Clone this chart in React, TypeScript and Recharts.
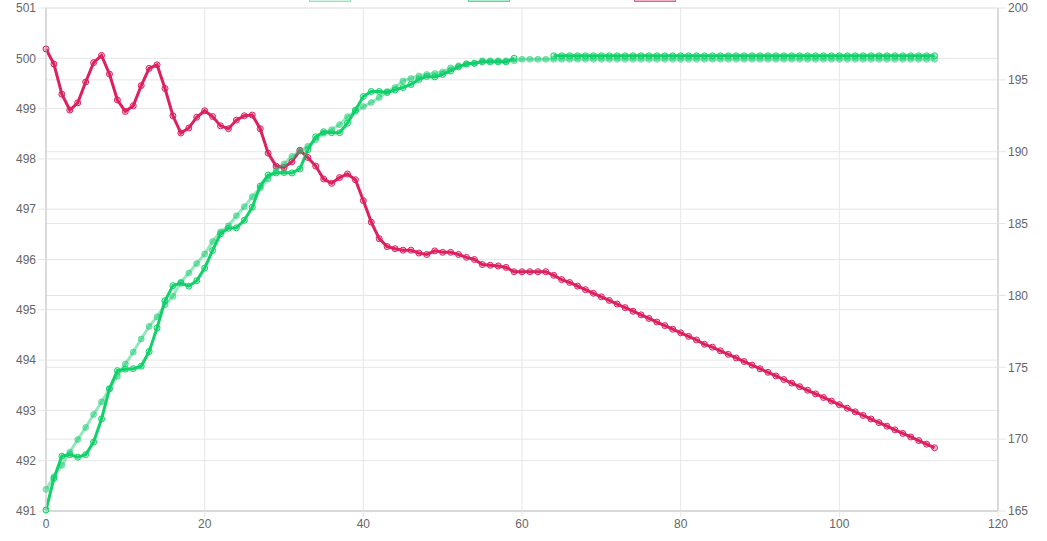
import { LineChart, Line, XAxis, YAxis, CartesianGrid } from "recharts";

// x positions are just the sample index 0..112
const SMOOTH = [
  491.43, 491.68, 491.91, 492.17, 492.42, 492.66, 492.92, 493.17, 493.43, 493.68,
  493.92, 494.16, 494.42, 494.67, 494.86, 495.1, 495.27, 495.55, 495.73, 495.92,
  496.11, 496.36, 496.55, 496.67, 496.87, 497.05, 497.25, 497.42, 497.6, 497.78,
  497.9, 498.05, 498.15, 498.25, 498.38, 498.51, 498.58, 498.68, 498.84, 498.94,
  499.04, 499.12, 499.22, 499.34, 499.42, 499.55, 499.6, 499.65, 499.68, 499.7,
  499.73, 499.81, 499.85, 499.88, 499.9, 499.95, 499.95, 499.95, 499.95, 499.95,
  499.98, 499.98, 499.98, 499.98, 499.98, 499.98, 499.98, 499.98, 499.98, 499.98,
  499.98, 499.98, 499.98, 499.98, 499.98, 499.98, 499.98, 499.98, 499.98, 499.98,
  499.98, 499.98, 499.98, 499.98, 499.98, 499.98, 499.98, 499.98, 499.98, 499.98,
  499.98, 499.98, 499.98, 499.98, 499.98, 499.98, 499.98, 499.98, 499.98, 499.98,
  499.98, 499.98, 499.98, 499.98, 499.98, 499.98, 499.98, 499.98, 499.98, 499.98,
  499.98, 499.98, 499.98,
];

const RAW = [
  491.02, 491.65, 492.09, 492.12, 492.07, 492.12, 492.37, 492.83, 493.43, 493.79,
  493.82, 493.83, 493.88, 494.17, 494.64, 495.18, 495.48, 495.53, 495.47, 495.58,
  495.83, 496.18, 496.51, 496.62, 496.63, 496.78, 497.04, 497.46, 497.68, 497.72,
  497.73, 497.72, 497.8, 498.18, 498.44, 498.54, 498.52, 498.52, 498.71, 498.97,
  499.24, 499.34, 499.34, 499.32, 499.37, 499.42, 499.48, 499.58, 499.64, 499.63,
  499.68, 499.75, 499.83, 499.89, 499.9, 499.93, 499.93, 499.93, 499.93, 500.0,
  null, null, null, null, 500.05, 500.05, 500.05, 500.05, 500.05, 500.05,
  500.05, 500.05, 500.05, 500.05, 500.05, 500.05, 500.05, 500.05, 500.05, 500.05,
  500.05, 500.05, 500.05, 500.05, 500.05, 500.05, 500.05, 500.05, 500.05, 500.05,
  500.05, 500.05, 500.05, 500.05, 500.05, 500.05, 500.05, 500.05, 500.05, 500.05,
  500.05, 500.05, 500.05, 500.05, 500.05, 500.05, 500.05, 500.05, 500.05, 500.05,
  500.05, 500.05, 500.05,
];

// red series, plotted on the right axis
const SECOND = [
  197.15, 196.1, 194.0, 192.9, 193.4, 194.85, 196.2, 196.7, 195.4, 193.6,
  192.8, 193.2, 194.6, 195.8, 196.05, 194.4, 192.5, 191.3, 191.65, 192.4,
  192.85, 192.45, 191.8, 191.6, 192.2, 192.5, 192.55, 191.6, 189.9, 189.0,
  188.9, 189.3, 190.1, 189.6, 189.0, 188.1, 187.8, 188.2, 188.45, 188.05,
  186.6, 185.1, 183.95, 183.4, 183.25, 183.15, 183.15, 182.95, 182.85, 183.1,
  183.0, 183.0, 182.85, 182.65, 182.5, 182.15, 182.1, 182.05, 181.95, 181.65,
  181.65, 181.65, 181.65, 181.65, 181.4, 181.1, 180.9, 180.65, 180.4, 180.15,
  179.9, 179.65, 179.4, 179.15, 178.9, 178.65, 178.4, 178.15, 177.9, 177.65,
  177.4, 177.15, 176.9, 176.6, 176.4, 176.15, 175.9, 175.65, 175.4, 175.15,
  174.9, 174.65, 174.4, 174.15, 173.9, 173.65, 173.4, 173.15, 172.9, 172.65,
  172.4, 172.15, 171.9, 171.65, 171.4, 171.15, 170.9, 170.65, 170.4, 170.15,
  169.9, 169.65, 169.4,
];

const X_TICKS = [0, 20, 40, 60, 80, 100, 120];
const LEFT_TICKS = [491, 492, 493, 494, 495, 496, 497, 498, 499, 500, 501];
const RIGHT_TICKS = [165, 170, 175, 180, 185, 190, 195, 200];

const data = SMOOTH.map((v, i) => ({ x: i, smooth: v, raw: RAW[i], second: SECOND[i] }));

const GRID = "#e6e6e6";
const AXIS = "#d2d2d2";
const TICK = { fill: "#666", fontSize: 12, fontFamily: '"Liberation Sans", Arial, sans-serif' };

const LIGHT = "rgba(20, 205, 110, 0.45)";
const GREEN = "#10d268";
const RED = "#dd2160";

const LEGEND = [
  { left: 309, fill: "rgba(20, 205, 110, 0.2)", stroke: "rgba(20, 205, 110, 0.35)" },
  { left: 468, fill: "rgba(16, 210, 104, 0.35)", stroke: "rgba(16, 210, 104, 0.6)" },
  { left: 634, fill: "rgba(221, 33, 96, 0.35)", stroke: "rgba(221, 33, 96, 0.6)" },
];

export default function App() {
  return (
    <div
      style={{
        position: "absolute",
        left: 0,
        top: 0,
        width: 1047,
        height: 541,
        overflow: "hidden",
        background: "#fff",
      }}
    >
      {LEGEND.map((l) => (
        <div
          key={l.left}
          style={{
            position: "absolute",
            left: l.left,
            top: -10,
            width: 40,
            height: 10,
            background: l.fill,
            border: `1px solid ${l.stroke}`,
          }}
        />
      ))}
      <LineChart width={1047} height={541} data={data} margin={{ top: 8, right: 0, bottom: 0, left: 0 }}>
        <CartesianGrid yAxisId="left" stroke={GRID} horizontalValues={LEFT_TICKS} verticalValues={X_TICKS} />
        <CartesianGrid yAxisId="right" stroke={GRID} vertical={false} horizontalValues={RIGHT_TICKS} />
        <XAxis
          type="number"
          dataKey="x"
          domain={[0, 120]}
          ticks={X_TICKS}
          height={30}
          tick={TICK}
          tickSize={6}
          tickLine={{ stroke: GRID }}
          axisLine={{ stroke: AXIS, strokeWidth: 1.5 }}
        />
        <YAxis
          yAxisId="left"
          orientation="left"
          domain={[491, 501]}
          ticks={LEFT_TICKS}
          width={46}
          tick={TICK}
          tickSize={8}
          tickLine={{ stroke: GRID }}
          axisLine={{ stroke: AXIS, strokeWidth: 1.5 }}
        />
        <YAxis
          yAxisId="right"
          orientation="right"
          domain={[165, 200]}
          ticks={RIGHT_TICKS}
          width={49}
          tick={TICK}
          tickSize={8}
          tickLine={{ stroke: GRID }}
          axisLine={{ stroke: AXIS, strokeWidth: 1.5 }}
        />
        <Line
          yAxisId="right"
          dataKey="second"
          stroke={RED}
          strokeWidth={3}
          dot={{ r: 3, stroke: RED, strokeWidth: 1, fill: "rgba(221, 33, 96, 0.25)" }}
          isAnimationActive={false}
        />
        <Line
          yAxisId="left"
          dataKey="raw"
          stroke={GREEN}
          strokeWidth={3}
          dot={{ r: 3, stroke: GREEN, strokeWidth: 1, fill: "rgba(16, 210, 104, 0.25)" }}
          isAnimationActive={false}
        />
        <Line
          yAxisId="left"
          dataKey="smooth"
          stroke={LIGHT}
          strokeWidth={3}
          dot={{ r: 3, stroke: LIGHT, strokeWidth: 1, fill: LIGHT }}
          isAnimationActive={false}
        />
      </LineChart>
    </div>
  );
}
